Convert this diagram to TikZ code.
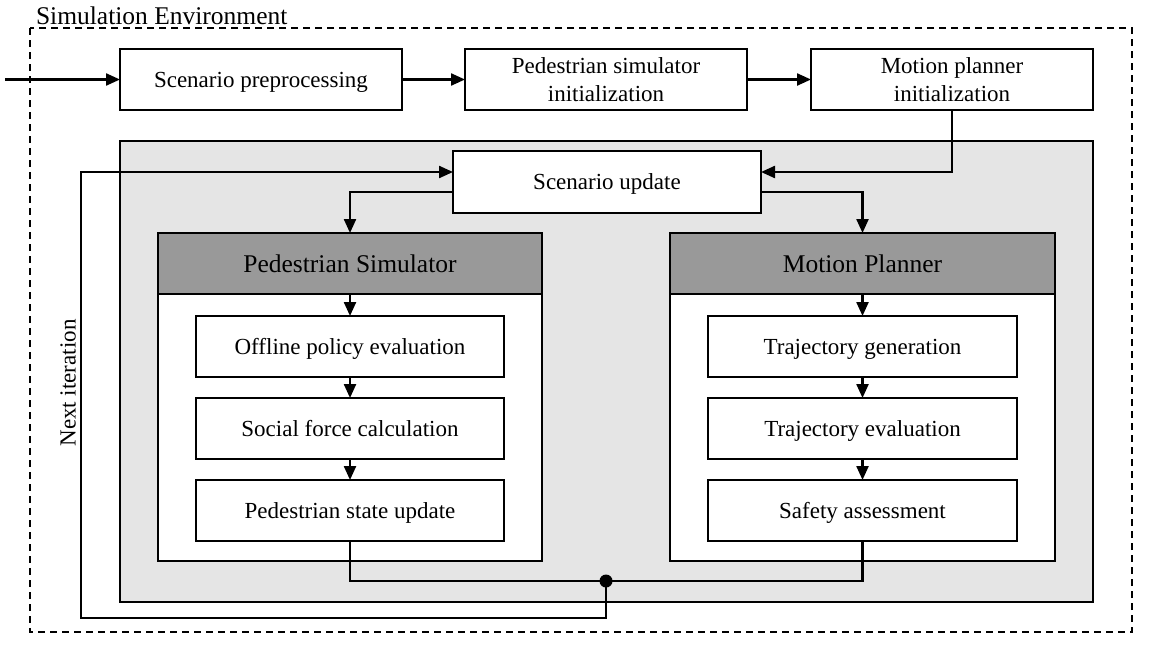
\documentclass[tikz,border=0pt]{standalone}
\usepackage{fontspec}
\setmainfont{Liberation Serif}
\usetikzlibrary{arrows.meta,calc}
\definecolor{bggray}{HTML}{E5E5E5}
\definecolor{hdgray}{HTML}{999999}
\begin{document}
\begin{tikzpicture}[x=1pt,y=-1pt,
  every node/.style={inner sep=0pt,outer sep=0pt},
  lw/.style={line width=2.3pt},
  blk/.style={lw,draw=black,fill=white,align=center,font=\fontsize{23}{28}\selectfont},
  wideblk/.style={blk,minimum width=282pt,minimum height=61pt},
  innerblk/.style={blk,text depth=0pt,minimum width=308pt,minimum height=61pt},
  hdr/.style={lw,draw=black,fill=hdgray,minimum height=61pt,font=\fontsize{25.5}{29}\selectfont},
  outerbox/.style={lw,draw=black,fill=white},
  arr/.style={lw,-{Triangle[length=14pt,width=12pt]}},
  conn/.style={lw}
]
\useasboundingbox (0,0) rectangle (1155,648);
% environment
\draw[lw,dash pattern=on 7pt off 5pt] (30,28) rectangle (1132,632);
\node[anchor=base west,font=\fontsize{25.5}{29}\selectfont] (title) at (36,24) {Simulation Environment};
% top row
\node[wideblk,text depth=0pt] (pre) at (261,79.5) {Scenario preprocessing};
\node[wideblk] (pedinit) at (606,79.5) {Pedestrian simulator\\initialization};
\node[wideblk] (mpinit) at (952,79.5) {Motion planner\\initialization};
\coordinate (in) at (5,79.5);
\draw[arr] (in) -- (pre);
\draw[arr] (pre) -- (pedinit);
\draw[arr] (pedinit) -- (mpinit);
% gray loop area
\draw[lw,fill=bggray] (120,141) rectangle (1093,602);
\node[blk,text depth=0pt,minimum width=308pt,minimum height=62pt] (upd) at (607,182) {Scenario update};
% pedestrian simulator
\draw[outerbox] (158,233) rectangle (542,561);
\node[hdr,minimum width=384pt] (pshead) at (350,263.5) {Pedestrian Simulator};
\node[innerblk] (ope) at (350,346.5) {Offline policy evaluation};
\node[innerblk] (sfc) at (350,428.5) {Social force calculation};
\node[innerblk] (psu) at (350,510.5) {Pedestrian state update};
% motion planner
\draw[outerbox] (670,233) rectangle (1055,561);
\node[hdr,minimum width=385pt] (mphead) at (862.5,263.5) {Motion Planner};
\node[innerblk,minimum width=309pt] (tg) at (862.5,346.5) {Trajectory generation};
\node[innerblk,minimum width=309pt] (te) at (862.5,428.5) {Trajectory evaluation};
\node[innerblk,minimum width=309pt] (sa) at (862.5,510.5) {Safety assessment};
% internal arrows
\draw[arr] (pshead) -- (ope);
\draw[arr] (ope) -- (sfc);
\draw[arr] (sfc) -- (psu);
\draw[arr] (mphead) -- (tg);
\draw[arr] (tg) -- (te);
\draw[arr] (te) -- (sa);
% scenario update connections
\draw[arr] (mpinit.south) |- ([yshift=10pt]upd.east);
\draw[arr] ([yshift=-10pt]upd.west) -| (pshead.north);
\draw[arr] ([yshift=-10pt]upd.east) -| (mphead.north);
% merge and loop
\coordinate (j) at (606,581);
\coordinate (lp) at (81,618);
\draw[conn] (psu.south) |- (j);
\draw[conn] (sa.south) |- (j);
\draw[arr] (j) |- (lp) |- ([yshift=10pt]upd.west);
\fill (j) circle (6.5pt);
\node[rotate=90,font=\fontsize{23}{26.5}\selectfont] (next) at (68,383) {Next iteration};
\end{tikzpicture}
\end{document}
